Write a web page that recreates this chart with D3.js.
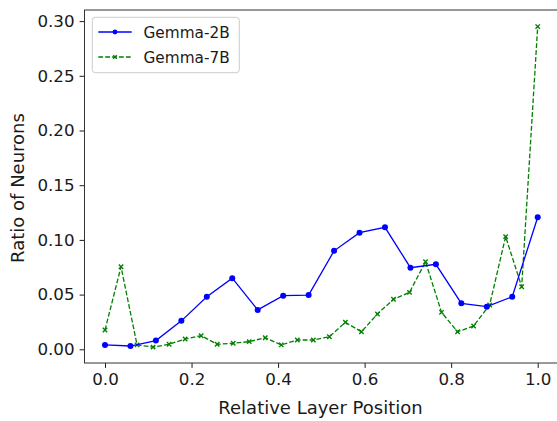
<!DOCTYPE html>
<html><head><meta charset="utf-8">
<script src="https://cdn.jsdelivr.net/npm/d3@7"></script>
<style>body{margin:0;background:#fff}svg{display:block}text{font-family:"DejaVu Sans",sans-serif;fill:#1a1a1a}</style>
</head><body><svg id="c" width="557" height="421"></svg>
<script>
const gemma2b = [0.004,0.003,0.008,0.026,0.048,0.065,0.036,0.049,0.0496,0.090,0.1066,0.1115,0.0746,0.0777,0.042,0.039,0.048,0.1207];
const gemma7b = [0.0176,0.0755,0.004,0.002,0.0046,0.0094,0.0124,0.0046,0.0055,0.007,0.0106,0.004,0.0085,0.0085,0.0115,0.0247,0.016,0.0323,0.0457,0.052,0.080,0.0338,0.016,0.0213,0.0405,0.103,0.0572,0.295];
const xTicks = [0,0.2,0.4,0.6,0.8,1.0];
const yTicks = [0,0.05,0.10,0.15,0.20,0.25,0.30];
const seriesNames = ["Gemma-2B","Gemma-7B"];

const svg = d3.select("#c");
const x = d3.scaleLinear().domain([0,1]).range([105,537.7]);
const y = d3.scaleLinear().domain([0,0.30]).range([349.3,21.1]);
const L=84.5,R=558,T=10,B=363;

const ax = svg.append("g").attr("transform",`translate(0,${B})`)
  .call(d3.axisBottom(x).tickValues(xTicks).tickFormat(d3.format(".1f")).tickSizeOuter(0).tickSize(4.9).tickPadding(5));
ax.select(".domain").remove();
ax.selectAll("text").attr("font-size","16.7px").attr("fill","#1a1a1a");
ax.selectAll("line").attr("stroke","#1a1a1a");
const ay = svg.append("g").attr("transform",`translate(${L},0)`)
  .call(d3.axisLeft(y).tickValues(yTicks).tickFormat(d3.format(".2f")).tickSizeOuter(0).tickSize(4.9).tickPadding(5));
ay.select(".domain").remove();
ay.selectAll("text").attr("font-size","16.7px").attr("fill","#1a1a1a");
ay.selectAll("line").attr("stroke","#1a1a1a");

svg.append("rect").attr("x",L).attr("y",T).attr("width",R-L).attr("height",B-T)
  .attr("fill","none").attr("stroke","#333").attr("stroke-width",1);

const line = d3.line().x(d=>x(d[0])).y(d=>y(d[1]));
const d2 = gemma2b.map((v,i)=>[i/(gemma2b.length-1),v]);
const d7 = gemma7b.map((v,i)=>[i/(gemma7b.length-1),v]);

svg.append("path").datum(d7).attr("d",line).attr("fill","none").attr("stroke","green")
  .attr("stroke-width",1.3).attr("stroke-dasharray","4.8,2.1");
const xm = (g,cx,cy,s)=>{g.append("path").attr("d",`M${cx-s},${cy-s}L${cx+s},${cy+s}M${cx-s},${cy+s}L${cx+s},${cy-s}`).attr("stroke","green").attr("stroke-width",1.4);};
const g7 = svg.append("g");
d7.forEach(d=>xm(g7,x(d[0]),y(d[1]),2.2));

svg.append("path").datum(d2).attr("d",line).attr("fill","none").attr("stroke","blue").attr("stroke-width",1.3);
svg.append("g").selectAll("circle").data(d2).join("circle")
  .attr("cx",d=>x(d[0])).attr("cy",d=>y(d[1])).attr("r",3).attr("fill","blue");

// legend
const lg = svg.append("g");
lg.append("rect").attr("x",92.3).attr("y",17.3).attr("width",147).attr("height",55.4).attr("rx",3)
  .attr("fill","white").attr("fill-opacity",0.8).attr("stroke","#ccc");
lg.append("line").attr("x1",98.3).attr("x2",131.7).attr("y1",32).attr("y2",32).attr("stroke","blue").attr("stroke-width",1.3);
lg.append("circle").attr("cx",115).attr("cy",32).attr("r",2.4).attr("fill","blue");
lg.append("line").attr("x1",98.3).attr("x2",131.7).attr("y1",57).attr("y2",57).attr("stroke","green").attr("stroke-width",1.3).attr("stroke-dasharray","4.8,2.1");
xm(lg,115,57,1.8);
lg.append("text").attr("x",143.5).attr("y",38.3).attr("font-size","15.3px").text(seriesNames[0]);
lg.append("text").attr("x",143.5).attr("y",63.3).attr("font-size","15.3px").text(seriesNames[1]);

svg.append("text").attr("x",320.5).attr("y",413.5).attr("text-anchor","middle").attr("font-size","18px").text("Relative Layer Position");
svg.append("text").attr("transform","translate(23.5,188) rotate(-90)").attr("text-anchor","middle").attr("font-size","18px").text("Ratio of Neurons");
</script></body></html>
